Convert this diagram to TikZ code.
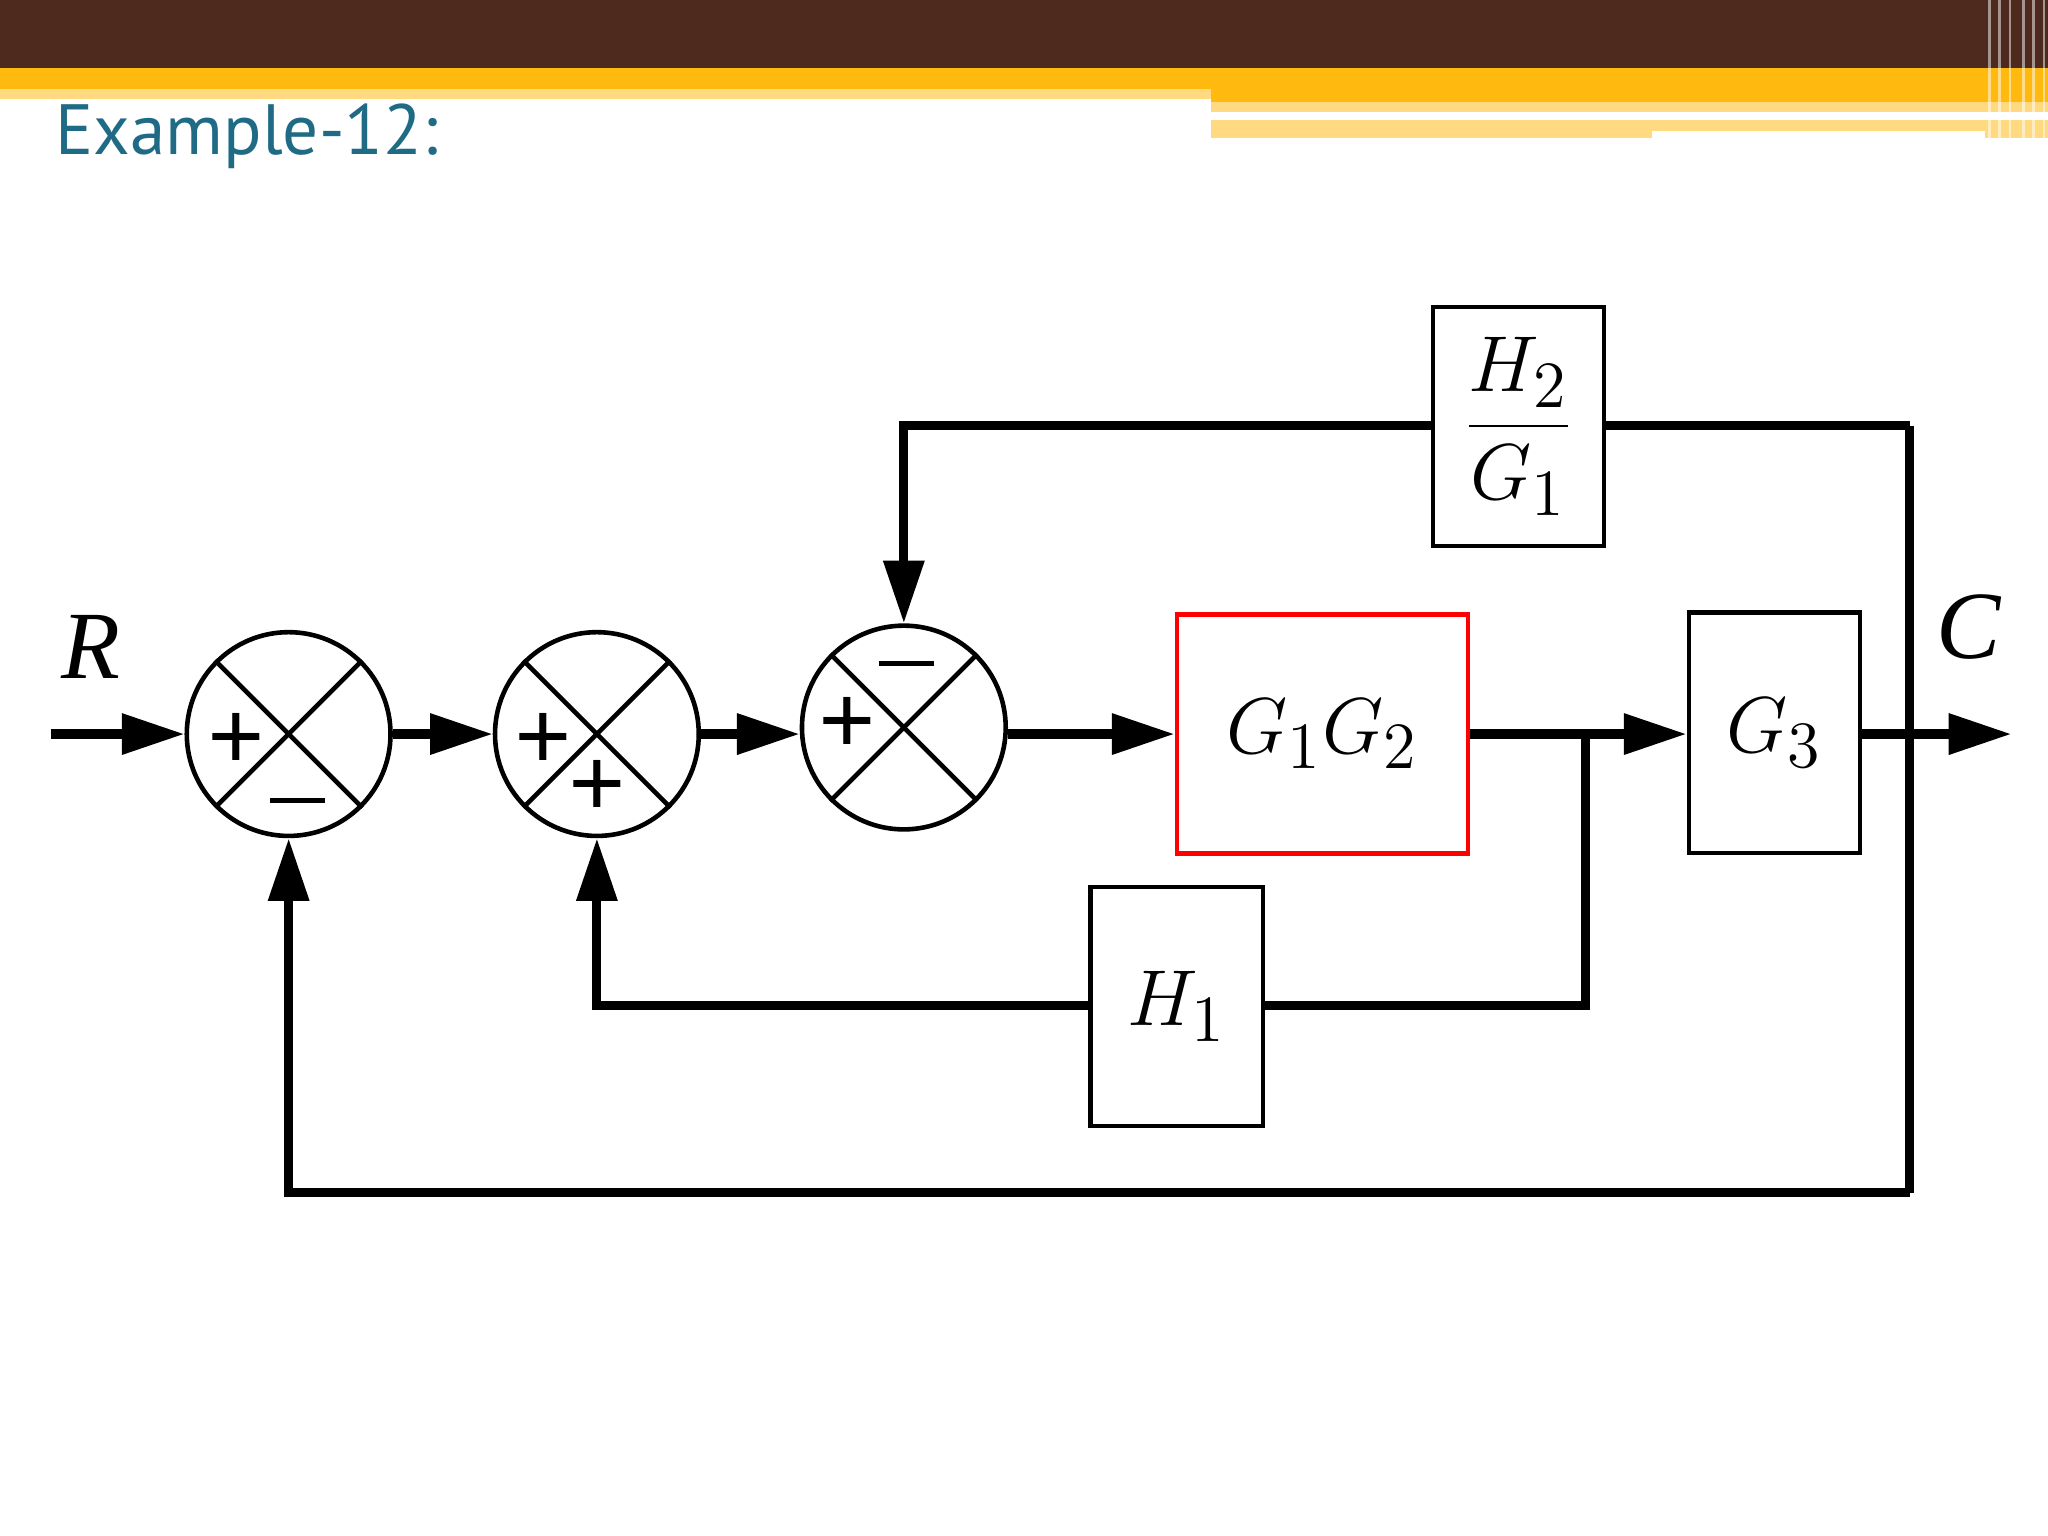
\documentclass[tikz,border=0pt]{standalone}
\usepackage{fontspec}
\setmainfont{Liberation Serif}
\newfontfamily\titlefont{PT Sans}
\usetikzlibrary{arrows.meta}
\definecolor{brownbar}{HTML}{4E2A1E}
\definecolor{goldbar}{HTML}{FFB90F}
\definecolor{lightgold}{HTML}{FFDA80}
\definecolor{titleblue}{HTML}{1F6B85}
\begin{document}
\begin{tikzpicture}[x=0.1mm,y=-0.1mm,
  sumj/.style={circle,draw,line width=1pt,minimum size=15.6mm,inner sep=0pt},
  blk/.style={draw,line width=1pt,inner sep=0pt,font=\fontsize{19}{21}\selectfont},
  sig/.style={line width=2pt},
  arr/.style={line width=2pt,-{Triangle[length=4.8mm,width=3mm]}},
  lbl/.style={font=\fontsize{21}{24}\selectfont\itshape},
  sgn/.style={font=\fontsize{22}{24}\selectfont\bfseries,inner sep=0pt}]
\useasboundingbox (0,0) rectangle (1568,1176);
\fill[white] (0,0) rectangle (1568,1176);
% header
\fill[brownbar] (0,0) rectangle (1568,52);
\fill[goldbar] (0,52) rectangle (1568,68);
\fill[lightgold] (0,68) rectangle (927,76);
\fill[goldbar] (927,68) rectangle (1568,78);
\fill[lightgold] (927,78) rectangle (1568,86);
\fill[lightgold] (927,92) rectangle (1568,106);
\fill[white] (1265,100) rectangle (1520,106);
\foreach \xx in {1522,1530,1538,1548,1556,1564}
  \fill[white,opacity=0.5] (\xx,0) rectangle (\xx+2,106);
\node[anchor=base west,inner sep=0pt,text=titleblue,font=\titlefont\fontsize{15.5}{18}\selectfont] (title) at (42,118) {Example-12:};
% junctions
\node[sumj] (s1) at (221,562) {};
\node[sumj] (s2) at (457,562) {};
\node[sumj] (s3) at (692,557) {};
\foreach \s in {s1,s2,s3}{
  \draw[line width=1pt] (\s.45)--(\s.225);
  \draw[line width=1pt] (\s.135)--(\s.315);}
\node[sgn] (p1) at (181,568) {+};
\node[sgn] (m1) at (228,613) {\rule{12pt}{1.2pt}};
\node[sgn] (p2) at (416,568) {+};
\node[sgn] (p2b) at (457,604) {+};
\node[sgn] (m3) at (694,508) {\rule{12pt}{1.2pt}};
\node[sgn] (p3) at (649,556) {+};
% blocks
\node[blk,draw=red,minimum width=22.3mm,minimum height=18.3mm] (g12) at (1012.5,562) {$G_1G_2$};
\node[blk,minimum width=13.1mm,minimum height=18.4mm] (g3) at (1358.5,561) {$G_3$};
\node[blk,minimum width=13.1mm,minimum height=18.3mm] (h2) at (1162.5,326.5) {$\displaystyle\frac{H_2}{G_1}$};
\node[blk,minimum width=13.2mm,minimum height=18.3mm] (h1) at (901,770.5) {$H_1$};
% labels
\node[lbl] (R) at (70,495) {R};
\node[lbl] (C) at (1507,480) {C};
% coordinates
\coordinate (in) at (39,562);
\coordinate (out) at (1540,562);
\coordinate (tap) at (1214,562);
\coordinate (tr) at (1462,326);
\coordinate (br) at (1462,913);
\coordinate (bl) at (221,913);
\coordinate (tl) at (692,326);
\coordinate (h1r) at (1214,770);
\coordinate (h1l) at (457,770);
% signals
\draw[arr] (in) -- (s1.west);
\draw[arr] (s1.east) -- (s2.west);
\draw[arr] (s2.east) -- (s2.east -| s3.west);
\draw[arr] (s3.east |- g12.west) -- (g12.west);
\draw[arr] (g12.east) -- (g3.west |- g12.east);
\draw[arr] (g3.east |- out) -- (out);
\draw[sig] (tr) -- (br);
\draw[sig] (tr) -- (h2.east |- tr);
\draw[arr] (h2.west |- tl) -- (tl) -- (s3.north);
\draw[arr] (br) -- (bl) -- (s1.south);
\draw[sig] (tap) -- (h1r) -- (h1.east |- h1r);
\draw[arr] (h1.west |- h1l) -- (h1l) -- (s2.south);
\end{tikzpicture}
\end{document}
